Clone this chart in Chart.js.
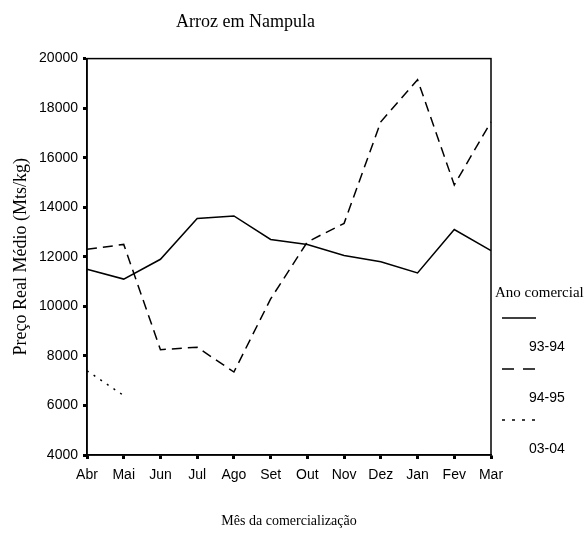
<!DOCTYPE html>
<html>
<head>
<meta charset="utf-8">
<script src="https://cdn.jsdelivr.net/npm/chart.js@4"></script>
<style>
  html, body { margin:0; padding:0; background:#fff; }
  #wrap { width:585px; height:533px; }
</style>
</head>
<body>
<div id="wrap"><canvas id="chart" width="585" height="533"></canvas></div>
<script>
const months = ['Abr','Mai','Jun','Jul','Ago','Set','Out','Nov','Dez','Jan','Fev','Mar'];
const seriesNames = ['93-94','94-95','03-04'];
const s9394 = [11500, 11100, 11900, 13550, 13650, 12700, 12500, 12050, 11800, 11350, 13100, 12250];
const s9495 = [12300, 12500, 8250, 8350, 7350, 10300, 12600, 13350, 17450, 19150, 14900, 17450];
const s0304 = [7400, 6400, null, null, null, null, null, null, null, null, null, null];

const dashes = [[], [10, 6], [2, 6]];
const legendDashes = [[], [12, 9], [3, 7]];

// frame round the plot + the legend on the right
const frame = {
  id:'frame',
  afterDraw(chart){
    const {ctx, chartArea:a} = chart;
    ctx.save();
    ctx.strokeStyle = '#000'; ctx.lineWidth = 1.5;
    ctx.strokeRect(a.left, a.top, a.right-a.left, a.bottom-a.top);

    const x0 = a.right + 4;
    ctx.fillStyle = '#000';
    ctx.textBaseline = 'middle'; ctx.textAlign = 'left';
    ctx.font = '15px "Liberation Serif"';
    ctx.fillText('Ano comercial', x0, 293);
    chart.data.datasets.forEach((ds, i) => {
      const y = 318 + i*51;
      ctx.setLineDash(legendDashes[i]);
      ctx.lineWidth = ds.borderWidth;
      ctx.beginPath(); ctx.moveTo(x0+7, y); ctx.lineTo(x0+41, y); ctx.stroke();
      ctx.setLineDash([]);
      ctx.font = '14px "Liberation Sans"';
      ctx.fillText(ds.label, x0+34, y+29);
    });
    ctx.restore();
  }
};

const tickGrid = { drawOnChartArea:false, tickLength:4, tickWidth:3, color:'#000' };

new Chart(document.getElementById('chart'), {
  type:'line',
  data:{
    labels: months,
    datasets: [s9394, s9495, s0304].map((d, i) => ({
      label: seriesNames[i], data: d, borderColor:'#000', borderWidth:1.5,
      borderDash: dashes[i], pointRadius:0, tension:0, fill:false, spanGaps:false
    }))
  },
  options:{
    responsive:false, animation:false,
    layout:{ padding:{ right:94 } },
    plugins:{
      legend:{ display:false },
      tooltip:{ enabled:false },
      title:{ display:true, text:'Arroz em Nampula', color:'#000',
        font:{ family:'Liberation Serif', size:18, weight:'normal' }, padding:{ top:11, bottom:26 } }
    },
    scales:{
      x:{
        offset:false,
        grid: tickGrid,
        border:{ display:true, color:'#000', width:1.5 },
        ticks:{ color:'#000', font:{ family:'Liberation Sans', size:14 }, padding:8, autoSkip:false, maxRotation:0 },
        title:{ display:true, text:'Mês da comercialização', color:'#000',
          font:{ family:'Liberation Serif', size:14 }, padding:{ top:0, bottom:3 } },
        afterFit(s){ s.height = 78; }
      },
      y:{
        min:4000, max:20000,
        grid: tickGrid,
        border:{ display:true, color:'#000', width:1.5 },
        ticks:{ stepSize:2000, color:'#000', font:{ family:'Liberation Sans', size:14 }, padding:5,
          callback: v => String(v) },
        title:{ display:true, text:'Preço Real Médio (Mts/kg)', color:'#000',
          font:{ family:'Liberation Serif', size:18 }, padding:{ top:10, bottom:0 } },
        afterFit(s){ s.width = 87; }
      }
    }
  },
  plugins:[frame]
});
</script>
</body>
</html>
